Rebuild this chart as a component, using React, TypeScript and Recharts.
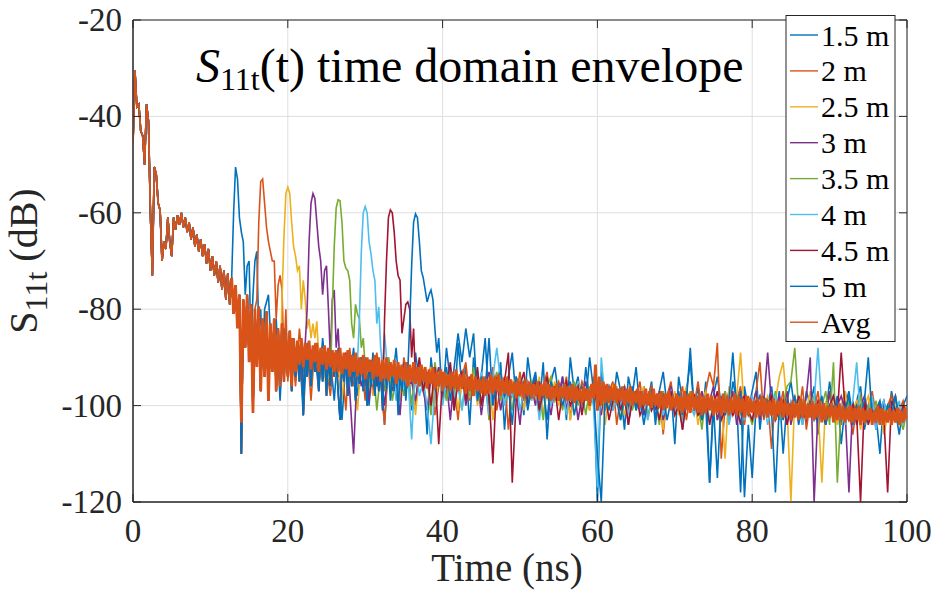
import React from 'react';
import { LineChart, Line, XAxis, YAxis, CartesianGrid, ReferenceArea } from 'recharts';

const FONT = '"Liberation Serif", "Times New Roman", serif';
const AXIS = '#262626';
const PLOT_TOP = 20;
const PLOT_RIGHT = 907;

const X_TICKS = [0, 20, 40, 60, 80, 100];
const Y_TICKS = [-120, -100, -80, -60, -40, -20];

const SERIES_NAMES = ['1.5 m', '2 m', '2.5 m', '3 m', '3.5 m', '4 m', '4.5 m', '5 m', 'Avg'];
const SERIES_COLORS = ['#0072BD', '#D95319', '#EDB120', '#7E2F8E', '#77AC30', '#4DBEEE', '#A2142F', '#0072BD', '#D95319'];

// shared response of all measurements before any reflection peak (t = 0 .. 35.75 ns, step 0.25 ns)
const commonDb = [
  -45.5, -30.5, -38, -37.5, -43, -44, -50, -37.5,
  -41, -60, -73, -50.5, -52, -58, -59.5, -70,
  -66, -67.5, -61, -66, -69, -61, -63.5, -60.5,
  -62.5, -60, -63, -61, -64, -62, -65.5, -63,
  -67, -64.5, -68, -65.5, -69, -66.5, -70.5, -67.5,
  -72, -69, -73, -70, -74.5, -71, -76, -72,
  -78, -72.5, -79, -73.5, -81, -75, -83, -77,
  -110, -78, -88, -77, -90, -79, -101.5, -80,
  -92, -79.5, -97, -82, -94, -80.5, -99, -83,
  -93, -82, -97, -84, -96, -83, -95, -85,
  -94, -84.5, -97, -86, -94, -87, -95, -86.5,
  -102, -87, -94, -87.5, -96, -88, -93, -87,
  -97, -88.5, -95, -88, -98, -89, -96, -88.5,
  -94, -89.5, -97, -103, -90, -95, -89.5, -98,
  -90, -96, -90.5, -99, -91, -95.5, -90, -97,
  -91.5, -100, -90.5, -96, -92, -98, -91, -97,
  -92.5, -101, -91.5, -96.5, -92, -99, -93, -97,
  -92, -102, -93.5, -97, -92.5, -99, -93, -98,
];

// reflection peaks (step 0.25 ns) and their start times
const peakStart = [13.0, 16.0, 19.25, 22.5, 25.75, 29.25, 32.5, 35.75];
const peak15 = [-60, -50.5, -53, -61, -64, -66, -77, -71, -70, -88, -77, -70, -68, -85, -80, -92];
const peak20 = [-78, -62, -53.5, -53, -58, -63, -66, -68, -70, -70, -82, -75, -73, -76, -90, -80, -95];
const peak25 = [-78, -65, -56, -54.7, -56, -62, -67, -69, -72, -71, -80, -74, -78, -84, -82, -86, -83, -86, -82.5, -90];
const peak30 = [-80, -66, -58, -56, -57, -62, -67, -70, -77, -72, -71, -80, -90, -78, -76, -88, -84, -92];
const peak35 = [-80, -67, -59, -57.3, -57.5, -62, -70, -71.5, -72, -74, -83, -86, -79, -81, -82, -88, -86, -92];
const peak40 = [-82, -68, -60, -58.7, -60, -66, -68.5, -72, -74, -83, -79.5, -88, -92, -85, -90, -94];
const peak45 = [-82, -70, -61, -59.4, -60, -64, -70, -73, -74, -85, -82, -79, -78.5, -80, -90, -84, -95];
const peak50 = [-83, -71, -62, -60.2, -61, -66, -72, -73.5, -76, -78.5, -77, -76, -78, -84, -89, -86, -93];

// noise floors after each peak (step 0.5 ns) and their start times
const noiseStart = [17.0, 20.5, 24.5, 27.0, 30.5, 33.5, 37.0, 40.0];
const noise15 = [
  -80, -77, -93, -82, -99, -84, -90, -86, -95, -88,
  -102, -87, -93, -89, -97, -86, -94, -90, -99, -88,
  -103, -91, -95, -88, -98, -92, -90, -100, -89, -96,
  -93, -104, -90, -95, -88, -99, -93, -91, -101, -89,
  -96, -93, -106, -90, -97, -92, -99, -88, -95, -101,
  -87, -96, -92, -104, -90, -98, -94, -86, -100, -93,
  -97, -91, -105, -94, -89, -99, -95, -102, -90, -96,
  -93, -100, -91, -107, -95, -92, -98, -94, -103, -90,
  -97, -94, -101, -92, -99, -95, -120, -93, -98, -96,
  -100, -93, -97, -105, -94, -98, -92, -101, -96, -99,
  -95, -104, -97, -93, -100, -96, -108, -94, -99, -97,
  -91, -101, -96, -103, -95, -116, -98, -94, -100, -97,
  -102, -95, -99, -118, -96, -101, -97, -93, -105, -98,
  -100, -96, -103, -97, -110, -99, -95, -101, -98, -104,
  -97, -100, -96, -106, -99, -102, -95, -101, -98, -108,
  -100, -97, -103, -99, -96, -105, -101, -98, -102, -110,
  -99, -103, -97, -101, -106, -100, -98,
];
const noise20 = [
  -86, -96, -84, -93, -88, -99, -87, -95, -90, -92,
  -98, -89, -94, -91, -101, -88, -96, -93, -90, -99,
  -92, -97, -89, -95, -104, -91, -96, -93, -99, -90,
  -95, -93, -100, -91, -97, -94, -92, -102, -96, -93,
  -98, -92, -96, -103, -94, -91, -99, -95, -93, -100,
  -94, -97, -92, -101, -96, -94, -105, -95, -98, -93,
  -99, -95, -97, -94, -102, -96, -93, -100, -97, -95,
  -98, -94, -103, -96, -99, -95, -97, -101, -94, -99,
  -96, -100, -97, -95, -104, -98, -96, -101, -97, -99,
  -95, -102, -98, -96, -100, -97, -106, -98, -95, -101,
  -99, -96, -103, -98, -100, -95, -101, -97, -93, -96,
  -87, -111, -100, -97, -102, -99, -96, -104, -98, -101,
  -97, -91, -103, -99, -109, -98, -101, -97, -104, -100,
  -98, -102, -96, -105, -99, -101, -97, -103, -100, -98,
  -102, -99, -104, -97, -101, -106, -100, -98, -103, -100,
  -97, -102, -99, -104, -100, -98, -103, -101, -99, -102,
];
const noise25 = [
  -90, -97, -88, -94, -91, -99, -89, -95, -92, -101,
  -90, -96, -93, -98, -91, -95, -100, -92, -97, -94,
  -99, -91, -96, -94, -102, -93, -97, -95, -92, -100,
  -94, -97, -93, -99, -95, -101, -94, -96, -98, -93,
  -100, -95, -97, -94, -103, -96, -93, -99, -97, -95,
  -98, -96, -101, -95, -97, -99, -94, -102, -96, -98,
  -95, -100, -97, -96, -103, -98, -95, -99, -97, -101,
  -96, -99, -97, -104, -98, -96, -100, -97, -102, -99,
  -97, -101, -98, -96, -103, -99, -100, -97, -105, -98,
  -100, -97, -102, -99, -96, -101, -98, -104, -99, -97,
  -101, -98, -103, -99, -111, -96, -100, -98, -89, -102,
  -99, -101, -97, -103, -100, -98, -102, -99, -94, -91,
  -100, -120, -98, -102, -99, -101, -97, -103, -100, -116,
  -99, -102, -98, -104, -100, -97, -103, -101, -99, -105,
  -100, -98, -103, -101, -99, -106, -102, -100, -98, -104,
  -101, -103,
];
const noise30 = [
  -93, -89, -97, -110, -91, -96, -92, -99, -91, -95,
  -93, -100, -92, -97, -94, -102, -91, -96, -95, -99,
  -93, -97, -101, -94, -96, -92, -99, -95, -103, -94,
  -97, -93, -100, -95, -98, -94, -102, -96, -93, -99,
  -95, -101, -96, -94, -98, -97, -104, -95, -99, -96,
  -100, -95, -98, -97, -102, -96, -99, -94, -101, -97,
  -96, -103, -98, -95, -100, -97, -99, -102, -96, -98,
  -101, -97, -99, -96, -104, -98, -100, -97, -102, -99,
  -98, -101, -97, -103, -99, -96, -100, -98, -105, -97,
  -100, -98, -102, -97, -101, -99, -96, -103, -100, -98,
  -101, -97, -104, -99, -98, -102, -100, -97, -103, -99,
  -89, -100, -102, -98, -101, -97, -104, -100, -99, -103,
  -98, -90, -120, -101, -99, -103, -97, -102, -100, -98,
  -101, -118, -99, -104, -100, -98, -102, -99, -105, -101,
  -99, -103, -100, -98, -104, -101, -102,
];
const noise35 = [
  -96, -91, -101, -93, -97, -90, -99, -94, -92, -98,
  -93, -100, -95, -92, -97, -94, -102, -91, -96, -95,
  -99, -93, -97, -95, -101, -94, -98, -92, -96, -100,
  -94, -103, -96, -93, -99, -95, -97, -101, -94, -98,
  -96, -100, -95, -98, -97, -103, -96, -94, -99, -97,
  -101, -96, -98, -95, -100, -97, -102, -96, -99, -98,
  -97, -101, -98, -100, -96, -103, -99, -97, -101, -98,
  -100, -97, -102, -99, -98, -104, -97, -100, -99, -101,
  -98, -103, -100, -97, -101, -99, -105, -98, -100, -102,
  -99, -101, -97, -103, -100, -98, -102, -99, -101, -104,
  -100, -98, -102, -99, -101, -97, -103, -100, -96, -95,
  -88, -101, -99, -103, -100, -98, -102, -100, -97, -104,
  -91, -116, -100, -102, -99, -103, -101, -98, -104, -100,
  -102, -99, -104, -101, -100, -103, -98, -102, -105, -101,
];
const noise40 = [
  -92, -99, -94, -96, -93, -107, -91, -98, -95, -100,
  -108, -97, -93, -100, -95, -92, -98, -96, -101, -94,
  -97, -95, -99, -93, -96, -102, -94, -88, -95, -100,
  -96, -98, -94, -101, -97, -95, -99, -96, -103, -97,
  -95, -100, -97, -98, -96, -102, -97, -99, -95, -101,
  -98, -97, -100, -117, -90, -99, -97, -101, -98, -100,
  -97, -102, -99, -98, -101, -97, -103, -99, -100, -98,
  -102, -99, -97, -101, -100, -104, -98, -100, -102, -99,
  -101, -98, -103, -100, -99, -102, -98, -104, -100, -101,
  -99, -103, -100, -98, -102, -101, -99, -104, -100, -98,
  -102, -100, -103, -99, -101, -98, -104, -100, -102, -99,
  -88, -101, -103, -100, -98, -102, -100, -104, -101, -99,
  -91, -103, -100, -102, -98, -105, -101, -99, -103, -100,
  -102, -99, -104, -101,
];
const noise45 = [
  -90, -97, -93, -100, -92, -108, -94, -96, -91, -101,
  -95, -93, -99, -94, -97, -92, -100, -95, -98, -112,
  -94, -97, -95, -89, -116, -99, -96, -93, -100, -97,
  -95, -101, -97, -94, -99, -96, -103, -97, -95, -100,
  -98, -96, -102, -97, -99, -95, -101, -98, -97, -103,
  -99, -97, -101, -98, -104, -99, -97, -102, -100, -98,
  -101, -99, -103, -98, -100, -97, -102, -100, -105, -99,
  -100, -98, -102, -101, -99, -104, -100, -97, -103, -101,
  -99, -102, -100, -104, -98, -101, -103, -99, -100, -102,
  -100, -98, -103, -101, -99, -104, -100, -102, -98, -101,
  -103, -100, -102, -99, -101, -104, -100, -98, -102, -89,
  -101, -103, -100, -102, -120, -99, -104, -101, -103, -100,
  -102, -118, -99, -101, -103, -100, -102,
];
const noise50 = [
  -95, -92, -99, -92, -85, -91, -84, -90, -85, -99,
  -94, -97, -86, -100, -95, -93, -98, -96, -104, -94,
  -97, -95, -101, -96, -94, -99, -97, -103, -95, -98,
  -96, -100, -97, -95, -102, -98, -96, -99, -90, -97,
  -110, -120, -98, -101, -97, -99, -103, -98, -100, -96,
  -101, -98, -104, -99, -97, -102, -100, -98, -103, -99,
  -100, -97, -102, -99, -88, -101, -98, -103, -100, -116,
  -100, -115, -98, -102, -99, -89, -101, -97, -119, -104,
  -115, -100, -98, -102, -99, -101, -118, -100, -103, -99,
  -101, -98, -104, -100, -102, -99, -103, -101, -98, -104,
  -100, -102, -99, -103, -101, -98, -104, -100, -102, -99,
  -90, -103, -101, -99, -104, -100, -102, -98, -103, -101,
  -102,
];

// average of all distances (from 13 ns, step 0.25 ns)
const avgStart = 13.0;
const avgTail = [
  -81, -75, -84, -77, -103.5, -78, -88, -77, -91, -79, -101.5, -80, -92, -79.5, -97, -82,
  -94, -80.5, -99, -83, -93, -82, -97, -84, -96, -83, -95, -85, -94, -84.5, -96, -86, -93,
  -86.5, -91.5, -86, -92, -87, -90.5, -86.5, -92.5, -87.5, -91, -87, -93, -88, -91.5, -87.5, -92.5, -88, -92, -88.5, -93,
  -88.5, -93, -88, -93.5, -89, -92.5, -88.5, -94, -89.5, -93, -89, -94, -90, -93.5, -89.5, -94.5, -90, -93, -90.5, -94.5,
  -89.5, -94, -90, -95, -90.5, -94.5, -90, -95, -91, -94, -90.5, -95.5, -91, -94.5, -91.5, -95, -91, -96, -91.5, -95,
  -91, -95.5, -92, -96, -91.5, -95, -92, -96.5, -92.5, -95.5, -92, -96.5, -93, -96, -92.5, -97, -93, -96, -93.5, -97,
  -93, -96.5, -92.5, -97, -93.5, -96.5, -93, -97.5, -94, -97, -93.5, -98, -94, -97, -94.5, -97.5, -94, -98, -94.5, -97.5,
  -93.5, -97.5, -94, -97, -93.5, -98, -94.5, -97.5, -94, -98, -94.5, -97.5, -95, -98.5, -94.5, -98, -95, -98.5, -94.5, -98,
  -95, -98.5, -95.5, -98, -95, -99, -95.5, -98, -95, -98.5, -95.5, -99, -96, -98.5, -95.5, -99, -96, -98.5, -95.5, -99,
  -96, -99, -95.5, -99.5, -96, -99, -96.5, -99.5, -96, -99, -96.5, -100, -95.5, -98.5, -91.5, -101, -94, -100, -95, -99.5,
  -95.5, -99.5, -96, -99, -95.5, -99.5, -96.5, -99, -96, -100, -96.5, -99.5, -96, -100, -97, -99.5, -96.5, -100.5, -97, -100,
  -96.5, -100, -97, -100.5, -96.5, -100, -97.5, -100.5, -97, -101, -97.5, -100.5, -97, -101, -98, -100.5, -97.5, -101, -98, -101.5,
  -97, -101, -97.5, -101.5, -97, -101, -98, -101.5, -97.5, -102, -98, -101.5, -97.5, -101, -98, -102, -98.5, -101.5, -98, -102,
  -97.5, -101.5, -98, -102, -98.5, -101.5, -97.5, -102, -98, -101.5, -98.5, -102.5, -98, -102, -98.5, -101.5, -99, -102.5, -98.5, -102,
  -98, -102, -98.5, -102.5, -99, -102, -98.5, -103, -99, -102, -98.5, -102.5, -99, -102, -99.5, -103, -99, -102.5, -99.5, -103,
  -98.5, -102.5, -99, -103, -99.5, -102.5, -99, -103, -99.5, -102.5, -99, -103.5, -99.5, -103, -100, -102.5, -99.5, -103.5, -100, -103,
  -99.5, -103, -100, -103.5, -100.5, -103, -100, -103.5, -100.5, -103, -100, -104, -100.5, -103.5, -101, -103, -100.5, -104, -101, -103.5,
  -100, -104, -100.5, -104, -101, -103.5, -100.5, -104, -101, -103.5, -100.5, -104, -101, -103.5, -100.5, -103,
];

type Pt = { t: number; v: number };
const seg = (start: number, step: number, vals: number[]): Pt[] =>
  vals.map((v, i) => ({ t: Math.round((start + i * step) * 1000) / 1000, v }));
const commonPts = seg(0, 0.25, commonDb);
const before = (t: number) => commonPts.filter((p) => p.t < t - 1e-9);

const peaks = [peak15, peak20, peak25, peak30, peak35, peak40, peak45, peak50];
const noises = [noise15, noise20, noise25, noise30, noise35, noise40, noise45, noise50];

const seriesData: Pt[][] = peaks.map((pk, k) => [
  ...before(peakStart[k]),
  ...seg(peakStart[k], 0.25, pk),
  ...seg(noiseStart[k], 0.5, noises[k]),
]);
const avgEarly = before(avgStart);
const avgLate = [avgEarly[avgEarly.length - 1], ...seg(avgStart, 0.25, avgTail)];

const textStyle = { fontFamily: FONT };

const XTick = (props: any) => {
  const { x, y, payload } = props;
  return (
    <g>
      <line x1={x} x2={x} y1={y} y2={y - 8} stroke={AXIS} strokeWidth={1} />
      <line x1={x} x2={x} y1={PLOT_TOP} y2={PLOT_TOP + 8} stroke={AXIS} strokeWidth={1} />
      <text x={x} y={y + 40} textAnchor="middle" style={textStyle} fontSize={33} fill={AXIS}>
        {payload.value}
      </text>
    </g>
  );
};

const YTick = (props: any) => {
  const { x, y, payload } = props;
  return (
    <g>
      <line x1={x} x2={x + 8} y1={y} y2={y} stroke={AXIS} strokeWidth={1} />
      <line x1={PLOT_RIGHT} x2={PLOT_RIGHT - 8} y1={y} y2={y} stroke={AXIS} strokeWidth={1} />
      <text x={x - 11} y={y + 11} textAnchor="end" style={textStyle} fontSize={33} fill={AXIS}>
        {payload.value}
      </text>
    </g>
  );
};

const lineProps = { dataKey: 'v', type: 'linear' as const, dot: false, activeDot: false, isAnimationActive: false };

export default function App() {
  return (
    <div style={{ position: 'absolute', left: 0, top: 0, width: 942, height: 591, background: '#fff', fontFamily: FONT }}>
      <LineChart width={942} height={591} margin={{ top: 20, right: 35, left: 0, bottom: 0 }} style={textStyle}>
        <CartesianGrid stroke="#dedede" strokeWidth={1} />
        <XAxis
          type="number"
          dataKey="t"
          domain={[0, 100]}
          ticks={X_TICKS}
          height={89}
          tickSize={0}
          tickMargin={0}
          tickLine={false}
          axisLine={{ stroke: AXIS }}
          tick={(p: any) => <XTick {...p} />}
          allowDataOverflow
        />
        <YAxis
          type="number"
          domain={[-120, -20]}
          ticks={Y_TICKS}
          width={133}
          tickSize={0}
          tickMargin={0}
          tickLine={false}
          axisLine={{ stroke: AXIS }}
          tick={(p: any) => <YTick {...p} />}
          allowDataOverflow
        />
        <ReferenceArea x1={0} x2={100} y1={-120} y2={-20} fill="none" stroke={AXIS} strokeWidth={1} />
        {seriesData.map((d, i) => (
          <Line key={SERIES_NAMES[i]} {...lineProps} data={d} name={SERIES_NAMES[i]} stroke={SERIES_COLORS[i]} strokeWidth={1.6} />
        ))}
        <Line key="avg-early" {...lineProps} data={avgEarly} name="Avg" stroke={SERIES_COLORS[8]} strokeWidth={1.8} />
        <Line key="avg-late" {...lineProps} data={avgLate} name="Avg " stroke={SERIES_COLORS[8]} strokeWidth={2.8} />
      </LineChart>
      <svg width={942} height={591} style={{ position: 'absolute', left: 0, top: 0, pointerEvents: 'none', fontFamily: FONT }}>
        <text x={196} y={82} fontSize={48} fill="#000">
          <tspan fontStyle="italic">S</tspan>
          <tspan fontSize={32} dy={8}>11t</tspan>
          <tspan dy={-8}>(t) time domain envelope</tspan>
        </text>
        <text x={507} y={581} textAnchor="middle" fontSize={39} fill={AXIS}>
          Time (ns)
        </text>
        <text transform="translate(37,261) rotate(-90)" textAnchor="middle" fontSize={40} fill={AXIS}>
          S
          <tspan fontSize={32} dy={10}>11t</tspan>
          <tspan dy={-10}>{' (dB)'}</tspan>
        </text>
        <rect x={786} y={15.5} width={109} height={326} fill="#fff" stroke={AXIS} strokeWidth={1} />
        {SERIES_NAMES.map((n, i) => {
          const cy = 35 + i * 35.9;
          return (
            <g key={n}>
              <line x1={790} x2={818} y1={cy} y2={cy} stroke={SERIES_COLORS[i]} strokeWidth={1.4} />
              <text x={821} y={cy + 10.5} fontSize={30} fill="#000">
                {n}
              </text>
            </g>
          );
        })}
      </svg>
    </div>
  );
}
